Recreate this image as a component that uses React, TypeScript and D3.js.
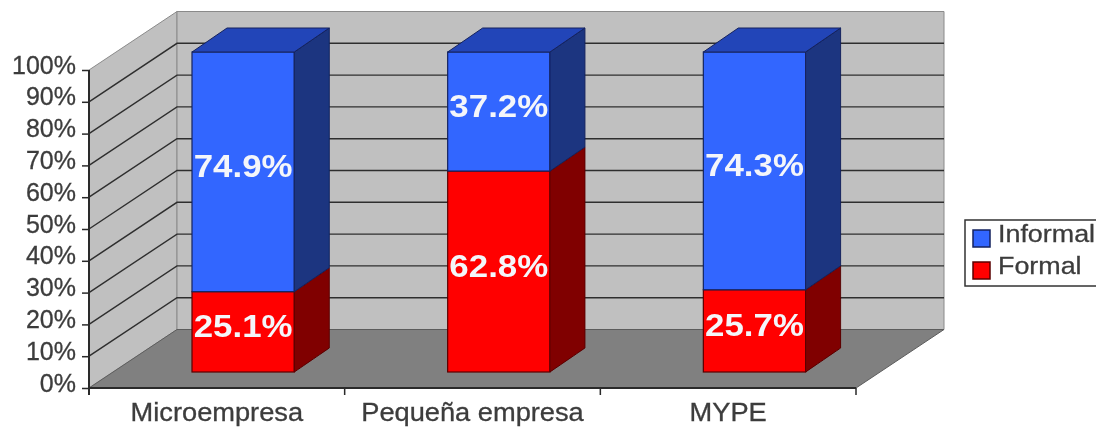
import React, { useEffect, useRef } from 'react'
import { select, scaleLinear, scaleBand, axisLeft, axisBottom, stack, line } from 'd3'

const categories = ['Microempresa', 'Pequeña empresa', 'MYPE']
const formal = [25.1, 62.8, 25.7]
const informal = [74.9, 37.2, 74.3]
const yTicks = [0, 10, 20, 30, 40, 50, 60, 70, 80, 90, 100]
const seriesNames = ['Formal', 'Informal']
const legendNames = ['Informal', 'Formal']

const FONT = '"Liberation Sans", Arial, sans-serif'
const TEXT = '#3c3c3c'

// front plane of the plot, and how far the floor runs back
const left = 89
const right = 856
const floorY = 388
const topY = 70
const depthX = 88
const depthY = -58.5
// bars sit part way into the depth
const barShiftX = 26.3
const barBottom = 372
const barTop = 52
const barDepthX = 35
const barDepthY = -24

const colors = {
  Informal: { front: '#3366ff', side: '#1c3480', top: '#2445b8', edge: '#14235e' },
  Formal: { front: '#ff0000', side: '#800000', top: '#b00000', edge: '#5a0000' },
}

const yScale = scaleLinear().domain([0, 100]).range([floorY, topY])
const barY = scaleLinear().domain([0, 100]).range([barBottom, barTop])
const xScale = scaleBand().domain(categories).range([left, right]).paddingInner(0.6).paddingOuter(0.3)
const axisX = scaleBand().domain(categories).range([left, right])

const table = categories.map((c, i) => ({ category: c, Formal: formal[i], Informal: informal[i] }))
const stacked = stack().keys(seriesNames)(table)

const poly = line()

const App = () => {
  const leftAxis = useRef()
  const bottomAxis = useRef()

  useEffect(() => {
    const yAxis = axisLeft(yScale).tickValues(yTicks).tickSize(7).tickPadding(5).tickFormat(d => d + '%')
    const ga = select(leftAxis.current).call(yAxis)
    ga.select('.domain').attr('stroke', '#2a2a2a').attr('stroke-width', 2).attr('d', `M0,${topY}V${floorY + 7}`)
    ga.selectAll('.tick line').attr('stroke', '#2a2a2a').attr('stroke-width', 1.5)
    ga.selectAll('.tick text')
      .attr('font-family', FONT)
      .attr('font-size', 25)
      .attr('fill', TEXT)
      .attr('stroke', TEXT)
      .attr('stroke-width', 0.3)
      .attr('x', -13)
      .attr('dy', '0.12em')
      .attr('text-anchor', 'end')

    const xAxis = axisBottom(axisX).tickSize(0).tickPadding(14)
    const gb = select(bottomAxis.current).call(xAxis)
    gb.select('.domain').attr('stroke', '#2a2a2a').attr('stroke-width', 2).attr('d', `M${left},0H${right}`)
    gb.selectAll('.sep').data([0, 1, 2, 3]).join('line')
      .attr('class', 'sep')
      .attr('x1', i => left + axisX.step() * i)
      .attr('x2', i => left + axisX.step() * i)
      .attr('y1', 0)
      .attr('y2', 7)
      .attr('stroke', '#2a2a2a')
      .attr('stroke-width', 1.5)
    gb.selectAll('.tick text')
      .attr('font-family', FONT)
      .attr('font-size', 25)
      .attr('fill', TEXT)
      .attr('stroke', TEXT)
      .attr('stroke-width', 0.3)
      .attr('y', 15)
      .attr('dy', '0.71em')
      .attr('transform', 'scale(1.09,1)')
      .attr('x', 0)
  }, [])

  return (
    <svg width={1096} height={429} style={{ position: 'absolute', left: 0, top: 0, background: '#fff' }}>
      <defs>
        <filter id="soft" x="0" y="0" width="1096" height="429" filterUnits="userSpaceOnUse">
          <feGaussianBlur stdDeviation="0.7" />
        </filter>
      </defs>
      <g filter="url(#soft)">
        {/* side wall */}
        <path
          d={poly([[left, floorY], [left, topY], [left + depthX, topY + depthY], [left + depthX, floorY + depthY]]) + 'Z'}
          fill="#c0c0c0"
          stroke="#8a8a8a"
        />
        {/* back wall */}
        <path
          d={poly([[left + depthX, floorY + depthY], [left + depthX, topY + depthY], [right + depthX, topY + depthY], [right + depthX, floorY + depthY]]) + 'Z'}
          fill="#c0c0c0"
          stroke="#8a8a8a"
        />
        {/* floor */}
        <path
          d={poly([[left, floorY], [left + depthX, floorY + depthY], [right + depthX, floorY + depthY], [right, floorY]]) + 'Z'}
          fill="#808080"
          stroke="#5c5c5c"
        />
        {/* gridlines */}
        {yTicks.filter(t => t > 0 && t < 100).map(t => (
          <path
            key={t}
            d={poly([[left, yScale(t)], [left + depthX, yScale(t) + depthY], [right + depthX, yScale(t) + depthY]])}
            fill="none"
            stroke="#2e2e2e"
            strokeWidth={1.4}
          />
        ))}

        {/* bars */}
        {categories.map(cat => {
          const x0 = xScale(cat) + barShiftX
          const x1 = x0 + xScale.bandwidth()
          return (
            <g key={cat}>
              {stacked.map(s => {
                const d = s[categories.indexOf(cat)]
                const c = colors[s.key]
                const yA = barY(d[0])
                const yB = barY(d[1])
                return (
                  <g key={s.key}>
                    <rect x={x0} y={yB} width={x1 - x0} height={yA - yB} fill={c.front} stroke={c.edge} strokeWidth={1.2} />
                    <path
                      d={poly([[x1, yA], [x1, yB], [x1 + barDepthX, yB + barDepthY], [x1 + barDepthX, yA + barDepthY]]) + 'Z'}
                      fill={c.side}
                      stroke={c.edge}
                    />
                    {s.key === 'Informal' && (
                      <path
                        d={poly([[x0, yB], [x0 + barDepthX, yB + barDepthY], [x1 + barDepthX, yB + barDepthY], [x1, yB]]) + 'Z'}
                        fill={c.top}
                        stroke={c.edge}
                      />
                    )}
                  </g>
                )
              })}
            </g>
          )
        })}

        {/* value labels */}
        {categories.map(cat =>
          stacked.map(s => {
            const d = s[categories.indexOf(cat)]
            const cx = xScale(cat) + barShiftX + xScale.bandwidth() / 2
            const cy = (barY(d[0]) + barY(d[1])) / 2 + 5
            return (
              <text
                key={cat + s.key}
                transform={`translate(${cx},${cy}) scale(1.09,1)`}
                textAnchor="middle"
                fontFamily={FONT}
                fontWeight="bold"
                fontSize={32}
                fill="#f4f6fa"
              >
                {(d[1] - d[0]).toFixed(1)}%
              </text>
            )
          })
        )}

        <g ref={leftAxis} transform={`translate(${left},0)`} />
        <g ref={bottomAxis} transform={`translate(0,${floorY})`} />

        {/* legend */}
        <rect x={965} y={220} width={140} height={66} fill="#fff" stroke="#333" strokeWidth={1.5} />
        {legendNames.map((name, i) => (
          <g key={name} transform={`translate(973,${230 + i * 32})`}>
            <rect width={17} height={17} fill={colors[name].front} stroke={colors[name].edge} strokeWidth={1.5} />
            <text
              transform="translate(25,12) scale(1.12,1)"
              fontFamily={FONT}
              fontSize={24}
              fill={TEXT}
              stroke={TEXT}
              strokeWidth={0.3}
            >
              {name}
            </text>
          </g>
        ))}
      </g>
    </svg>
  )
}

export default App
